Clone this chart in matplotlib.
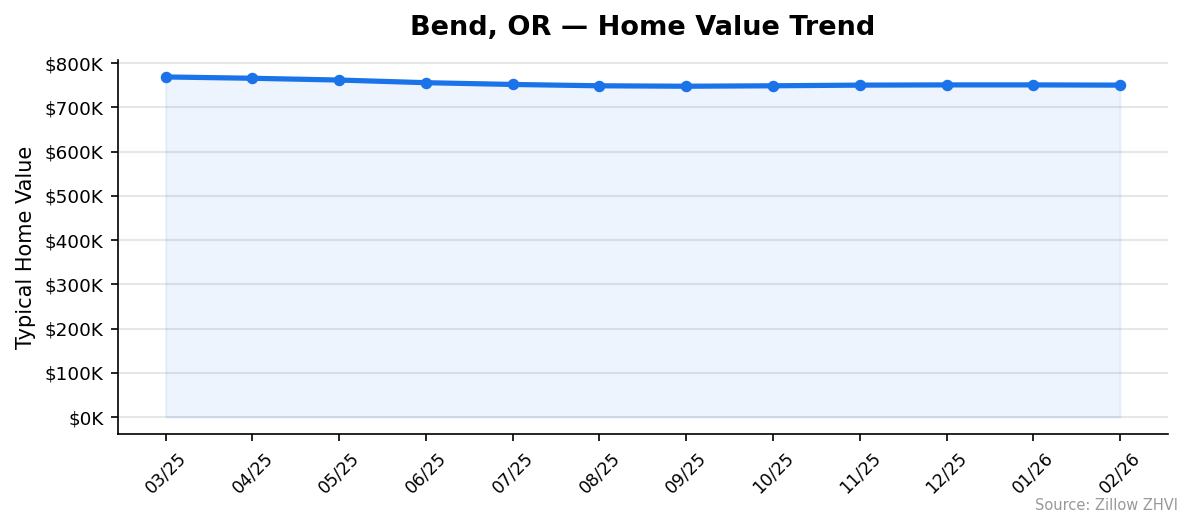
import matplotlib as mpl
mpl.use("agg")

import matplotlib.pyplot as plt
from matplotlib.ticker import FuncFormatter
import numpy as np


months = ["03/25", "04/25", "05/25", "06/25", "07/25", "08/25",
          "09/25", "10/25", "11/25", "12/25", "01/26", "02/26"]
# typical home value, thousands of dollars
values = [769, 766, 762, 756, 752, 749, 748, 749, 750.5, 751, 751, 750.5]

color = "#1a73e8"

fig, ax = plt.subplots(figsize=(7.96, 3.527), dpi=150)
fig.subplots_adjust(left=0.0988, right=0.978, top=0.8866, bottom=0.1796)

x = np.arange(len(months))
ax.fill_between(x, values, 0, color=color, alpha=0.08)
ax.plot(x, values, color=color, linewidth=2.5, marker="o", markersize=4.5)

ax.set_xticks(x)
ax.set_xticklabels(months, rotation=45, fontsize=8.3)
ax.set_yticks(np.arange(0, 801, 100))
ax.yaxis.set_major_formatter(FuncFormatter(lambda v, p: "${:.0f}K".format(v)))
ax.tick_params(axis="y", labelsize=8.8)

ax.set_ylabel("Typical Home Value", fontsize=10)
ax.set_title("Bend, OR \u2014 Home Value Trend", fontsize=13, fontweight="bold", pad=12)

ax.grid(axis="y", color="#d8d8d8", alpha=0.6, linewidth=1)
ax.set_axisbelow(True)
for side in ("top", "right"):
    ax.spines[side].set_visible(False)

fig.text(0.987, 0.045, "Source: Zillow ZHVI", ha="right", va="center",
         fontsize=7, color="#999999")

fig.savefig("out.png", dpi=150)
